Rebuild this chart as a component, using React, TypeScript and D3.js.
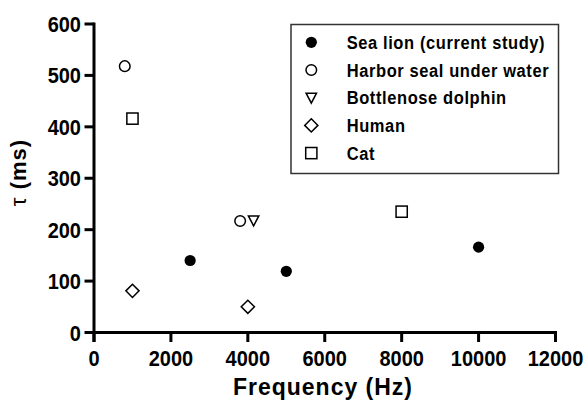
import React from "react";
import * as d3 from "d3";

const seaLionX = [2500, 5000, 10000];
const seaLionY = [140, 119, 166];
const harborSealX = [800, 3800];
const harborSealY = [518, 217];
const dolphinX = [4150];
const dolphinY = [218];
const humanX = [1000, 4000];
const humanY = [81, 50];
const catX = [1000, 8000];
const catY = [416, 235];

const xTicks = [0, 2000, 4000, 6000, 8000, 10000, 12000];
const yTicks = [0, 100, 200, 300, 400, 500, 600];
const legendLabels = [
  "Sea lion (current study)",
  "Harbor seal under water",
  "Bottlenose dolphin",
  "Human",
  "Cat",
];

type Kind = "filled" | "circle" | "triangle" | "diamond" | "square";

function Marker({ kind, x, y }: { kind: Kind; x: number; y: number }) {
  const sw = 1.5;
  if (kind === "filled") return <circle cx={x} cy={y} r={5.6} fill="#000" />;
  if (kind === "circle")
    return <circle cx={x} cy={y} r={5.3} fill="none" stroke="#000" strokeWidth={sw} />;
  if (kind === "square")
    return <rect x={x - 5.6} y={y - 5.6} width={11.2} height={11.2} fill="none" stroke="#000" strokeWidth={sw} />;
  if (kind === "diamond") {
    const s = 6.6;
    return (
      <path d={`M${x},${y - s}L${x + s},${y}L${x},${y + s}L${x - s},${y}Z`} fill="none" stroke="#000" strokeWidth={sw} />
    );
  }
  const w = 5.2;
  return (
    <path d={`M${x - w},${y - 4.5}L${x + w},${y - 4.5}L${x},${y + 5.5}Z`} fill="none" stroke="#000" strokeWidth={sw} />
  );
}

const vs = (yy: number, s: number) => `translate(0,${yy}) scale(1,${s}) translate(0,${-yy})`;

export default function App() {
  const x = d3.scaleLinear().domain([0, 12000]).range([94, 555.5]);
  const y = d3.scaleLinear().domain([0, 600]).range([332.5, 24]);
  const font = "'Liberation Sans', Arial, sans-serif";

  const series: { kind: Kind; xs: number[]; ys: number[] }[] = [
    { kind: "filled", xs: seaLionX, ys: seaLionY },
    { kind: "circle", xs: harborSealX, ys: harborSealY },
    { kind: "triangle", xs: dolphinX, ys: dolphinY },
    { kind: "diamond", xs: humanX, ys: humanY },
    { kind: "square", xs: catX, ys: catY },
  ];

  const axisW = 3;
  const tickLen = 9.5;

  return (
    <svg width={588} height={401} style={{ position: "absolute", left: 0, top: 0, background: "#fff" }} fontFamily={font}>
      <rect x={0} y={0} width={588} height={401} fill="#fff" />
      {/* Y axis */}
      <line x1={x(0)} x2={x(0)} y1={y(600) - 1.5} y2={y(0) + tickLen} stroke="#000" strokeWidth={axisW} />
      {yTicks.map((t) => (
        <g key={"y" + t}>
          <line x1={x(0) - tickLen} x2={x(0)} y1={y(t)} y2={y(t)} stroke="#000" strokeWidth={axisW} />
          <text x={x(0) - 13} y={y(t)} dy="0.36em" textAnchor="end" fontSize={20} fontWeight="bold" transform={vs(y(t), 1.12)}>
            {t}
          </text>
        </g>
      ))}
      {/* X axis */}
      <line x1={x(0) - 1.5} x2={x(12000) + 1.5} y1={y(0)} y2={y(0)} stroke="#000" strokeWidth={axisW} />
      {xTicks.map((t) => (
        <g key={"x" + t}>
          <line x1={x(t)} x2={x(t)} y1={y(0)} y2={y(0) + tickLen} stroke="#000" strokeWidth={axisW} />
          <text x={x(t)} y={366} textAnchor="middle" fontSize={20} fontWeight="bold" transform={vs(366, 1.12)}>
            {t}
          </text>
        </g>
      ))}
      <text x={323} y={395} textAnchor="middle" fontSize={23} fontWeight="bold" letterSpacing={1} transform={vs(395, 1.08)}>
        Frequency (Hz)
      </text>
      <text transform={`translate(25.5,172.5) rotate(-90)`} textAnchor="middle" fontSize={22} letterSpacing={1}>
        <tspan fontWeight="normal">τ</tspan>
        <tspan fontWeight="bold"> (ms)</tspan>
      </text>
      {/* points */}
      {series.map((s) =>
        s.xs.map((xv, i) => <Marker key={s.kind + i} kind={s.kind} x={x(xv)} y={y(s.ys[i])} />)
      )}
      {/* legend */}
      <rect x={291} y={24.5} width={267.5} height={149} fill="#fff" stroke="#333" strokeWidth={1.5} />
      {legendLabels.map((l, i) => {
        const cy = 42.3 + i * 27.7;
        return (
          <g key={l}>
            <Marker kind={series[i].kind} x={311.3} y={cy} />
            <text x={346.7} y={cy} dy="0.36em" fontSize={16.5} fontWeight="bold" letterSpacing={0.6} transform={vs(cy, 1.1)}>
              {l}
            </text>
          </g>
        );
      })}
    </svg>
  );
}
